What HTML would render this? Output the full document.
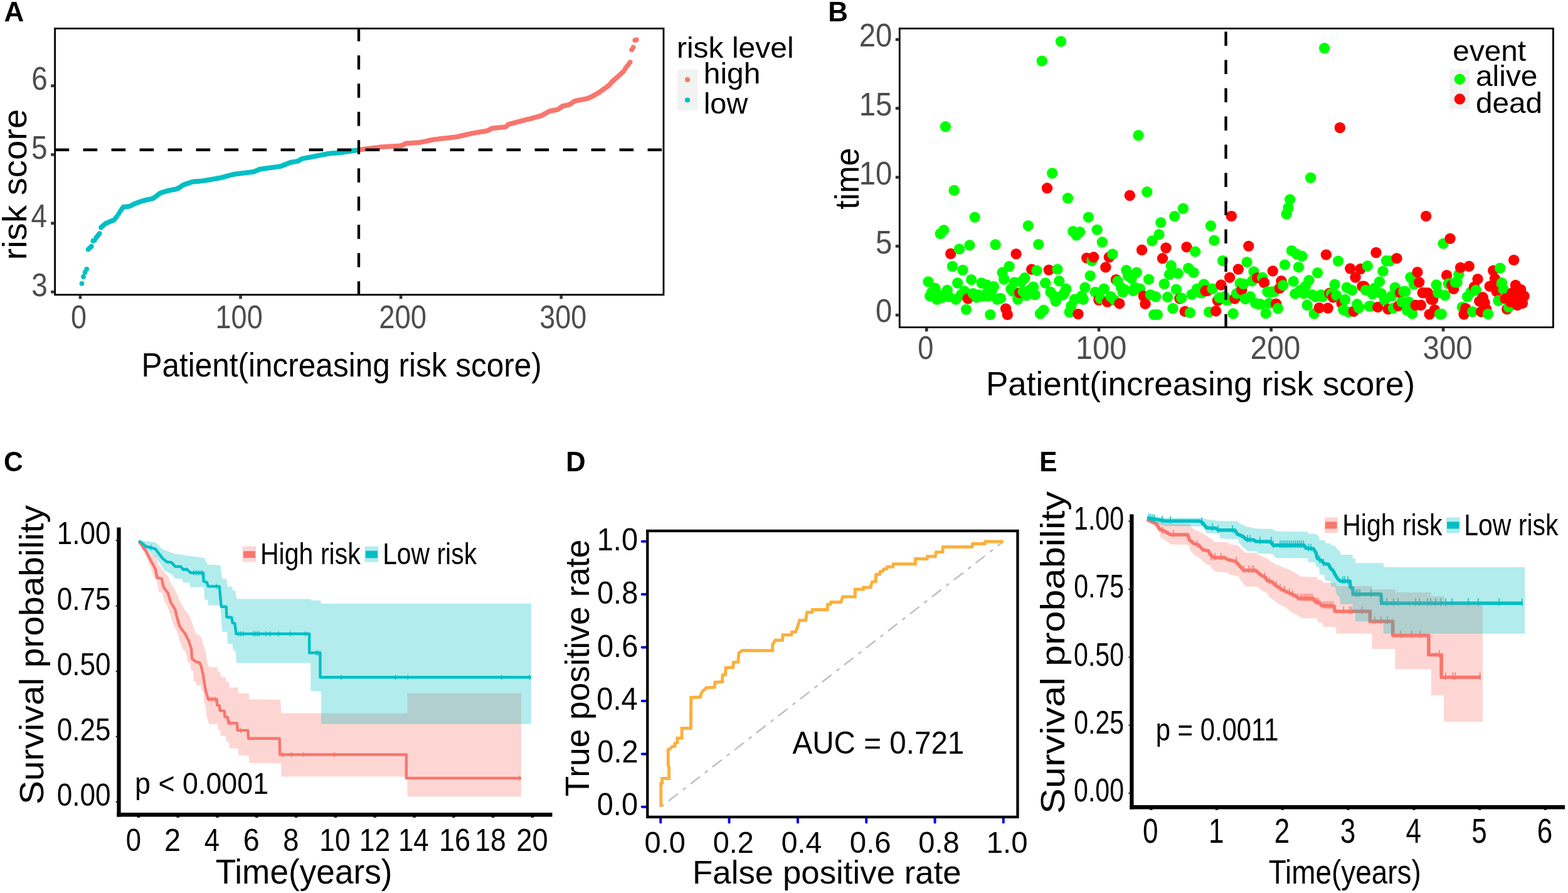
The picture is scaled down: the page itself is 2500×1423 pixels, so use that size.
<!DOCTYPE html>
<html lang="en">
<head>
<meta charset="utf-8">
<title>Risk score model: distribution, survival status, Kaplan-Meier and ROC curves</title>
<style>
html,body{margin:0;padding:0;background:#ffffff;}
body{width:2500px;height:1423px;overflow:hidden;}
svg{display:block;}
text{font-family:"Liberation Sans", Arial, Helvetica, sans-serif;white-space:pre;}
</style>
</head>
<body>
<svg xmlns="http://www.w3.org/2000/svg" width="2500" height="1423" viewBox="0 0 2500 1423" font-family='"Liberation Sans", Arial, Helvetica, sans-serif'>
<rect x="0" y="0" width="2500" height="1423" fill="#ffffff"/>
<g id="panelA">
<text transform="translate(6.6 34) scale(0.9828 1)" font-size="44.8" fill="#000" font-weight="bold">A</text>
<g fill="#00bfc4"><circle cx="130.46" cy="451.8" r="3.9"/><circle cx="133.01" cy="440.9" r="3.9"/><circle cx="135.57" cy="434" r="3.9"/><circle cx="138.12" cy="428.8" r="3.9"/><circle cx="140.68" cy="397.4" r="3.9"/><circle cx="143.24" cy="394.96" r="3.9"/><circle cx="145.79" cy="392.51" r="3.9"/><circle cx="148.35" cy="383.74" r="3.9"/><circle cx="150.9" cy="382.79" r="3.9"/><circle cx="153.46" cy="378.48" r="3.9"/><circle cx="156.02" cy="375.21" r="3.9"/><circle cx="158.57" cy="372.23" r="3.9"/><circle cx="161.13" cy="362.49" r="3.9"/><circle cx="163.68" cy="360.22" r="3.9"/><circle cx="166.24" cy="357.95" r="3.9"/><circle cx="168.8" cy="355.98" r="3.9"/><circle cx="171.35" cy="354.81" r="3.9"/><circle cx="173.91" cy="353.64" r="3.9"/><circle cx="176.46" cy="352.56" r="3.9"/><circle cx="179.02" cy="351.61" r="3.9"/><circle cx="181.58" cy="350.65" r="3.9"/><circle cx="184.13" cy="347.76" r="3.9"/><circle cx="186.69" cy="344.7" r="3.9"/><circle cx="189.24" cy="340.61" r="3.9"/><circle cx="191.8" cy="336.59" r="3.9"/><circle cx="194.36" cy="332.65" r="3.9"/><circle cx="196.91" cy="329.74" r="3.9"/><circle cx="199.47" cy="329.53" r="3.9"/><circle cx="202.02" cy="329.31" r="3.9"/><circle cx="204.58" cy="329.1" r="3.9"/><circle cx="207.14" cy="328.33" r="3.9"/><circle cx="209.69" cy="327.05" r="3.9"/><circle cx="212.25" cy="325.78" r="3.9"/><circle cx="214.8" cy="324.5" r="3.9"/><circle cx="217.36" cy="323.55" r="3.9"/><circle cx="219.92" cy="322.69" r="3.9"/><circle cx="222.47" cy="321.84" r="3.9"/><circle cx="225.03" cy="320.99" r="3.9"/><circle cx="227.58" cy="320.14" r="3.9"/><circle cx="230.14" cy="319.32" r="3.9"/><circle cx="232.7" cy="318.76" r="3.9"/><circle cx="235.25" cy="318.19" r="3.9"/><circle cx="237.81" cy="317.62" r="3.9"/><circle cx="240.36" cy="317.05" r="3.9"/><circle cx="242.92" cy="316.48" r="3.9"/><circle cx="245.48" cy="315.24" r="3.9"/><circle cx="248.03" cy="313.32" r="3.9"/><circle cx="250.59" cy="311.4" r="3.9"/><circle cx="253.14" cy="309.47" r="3.9"/><circle cx="255.7" cy="307.55" r="3.9"/><circle cx="258.26" cy="306.57" r="3.9"/><circle cx="260.81" cy="305.87" r="3.9"/><circle cx="263.37" cy="305.18" r="3.9"/><circle cx="265.92" cy="304.48" r="3.9"/><circle cx="268.48" cy="303.79" r="3.9"/><circle cx="271.04" cy="303.19" r="3.9"/><circle cx="273.59" cy="302.71" r="3.9"/><circle cx="276.15" cy="302.23" r="3.9"/><circle cx="278.7" cy="301.75" r="3.9"/><circle cx="281.26" cy="301.27" r="3.9"/><circle cx="283.82" cy="300.26" r="3.9"/><circle cx="286.37" cy="298.55" r="3.9"/><circle cx="288.93" cy="296.85" r="3.9"/><circle cx="291.48" cy="295.14" r="3.9"/><circle cx="294.04" cy="294.01" r="3.9"/><circle cx="296.6" cy="293.14" r="3.9"/><circle cx="299.15" cy="292.27" r="3.9"/><circle cx="301.71" cy="291.4" r="3.9"/><circle cx="304.26" cy="290.53" r="3.9"/><circle cx="306.82" cy="289.69" r="3.9"/><circle cx="309.38" cy="289.46" r="3.9"/><circle cx="311.93" cy="289.23" r="3.9"/><circle cx="314.49" cy="289" r="3.9"/><circle cx="317.04" cy="288.76" r="3.9"/><circle cx="319.6" cy="288.53" r="3.9"/><circle cx="322.16" cy="288.3" r="3.9"/><circle cx="324.71" cy="288.04" r="3.9"/><circle cx="327.27" cy="287.59" r="3.9"/><circle cx="329.82" cy="287.14" r="3.9"/><circle cx="332.38" cy="286.69" r="3.9"/><circle cx="334.94" cy="286.24" r="3.9"/><circle cx="337.49" cy="285.79" r="3.9"/><circle cx="340.05" cy="285.34" r="3.9"/><circle cx="342.6" cy="284.89" r="3.9"/><circle cx="345.16" cy="284.44" r="3.9"/><circle cx="347.72" cy="283.99" r="3.9"/><circle cx="350.27" cy="283.53" r="3.9"/><circle cx="352.83" cy="282.97" r="3.9"/><circle cx="355.38" cy="282.28" r="3.9"/><circle cx="357.94" cy="281.59" r="3.9"/><circle cx="360.5" cy="280.9" r="3.9"/><circle cx="363.05" cy="280.22" r="3.9"/><circle cx="365.61" cy="279.53" r="3.9"/><circle cx="368.16" cy="278.84" r="3.9"/><circle cx="370.72" cy="278.15" r="3.9"/><circle cx="373.28" cy="277.59" r="3.9"/><circle cx="375.83" cy="277.27" r="3.9"/><circle cx="378.39" cy="276.95" r="3.9"/><circle cx="380.94" cy="276.64" r="3.9"/><circle cx="383.5" cy="276.32" r="3.9"/><circle cx="386.06" cy="276" r="3.9"/><circle cx="388.61" cy="275.68" r="3.9"/><circle cx="391.17" cy="275.36" r="3.9"/><circle cx="393.72" cy="275.04" r="3.9"/><circle cx="396.28" cy="274.72" r="3.9"/><circle cx="398.84" cy="274.41" r="3.9"/><circle cx="401.39" cy="274.09" r="3.9"/><circle cx="403.95" cy="273.77" r="3.9"/><circle cx="406.5" cy="272.87" r="3.9"/><circle cx="409.06" cy="271.8" r="3.9"/><circle cx="411.62" cy="270.74" r="3.9"/><circle cx="414.17" cy="269.69" r="3.9"/><circle cx="416.73" cy="269.33" r="3.9"/><circle cx="419.28" cy="268.96" r="3.9"/><circle cx="421.84" cy="268.6" r="3.9"/><circle cx="424.4" cy="268.23" r="3.9"/><circle cx="426.95" cy="267.87" r="3.9"/><circle cx="429.51" cy="267.51" r="3.9"/><circle cx="432.06" cy="267.14" r="3.9"/><circle cx="434.62" cy="266.78" r="3.9"/><circle cx="437.18" cy="266.41" r="3.9"/><circle cx="439.73" cy="266.05" r="3.9"/><circle cx="442.29" cy="265.69" r="3.9"/><circle cx="444.84" cy="265.32" r="3.9"/><circle cx="447.4" cy="264.96" r="3.9"/><circle cx="449.96" cy="264.04" r="3.9"/><circle cx="452.51" cy="263.02" r="3.9"/><circle cx="455.07" cy="261.99" r="3.9"/><circle cx="457.62" cy="260.97" r="3.9"/><circle cx="460.18" cy="259.95" r="3.9"/><circle cx="462.74" cy="258.93" r="3.9"/><circle cx="465.29" cy="258.29" r="3.9"/><circle cx="467.85" cy="257.92" r="3.9"/><circle cx="470.4" cy="257.56" r="3.9"/><circle cx="472.96" cy="257.19" r="3.9"/><circle cx="475.52" cy="256.58" r="3.9"/><circle cx="478.07" cy="254.98" r="3.9"/><circle cx="480.63" cy="253.38" r="3.9"/><circle cx="483.18" cy="252.58" r="3.9"/><circle cx="485.74" cy="252.11" r="3.9"/><circle cx="488.3" cy="251.65" r="3.9"/><circle cx="490.85" cy="251.18" r="3.9"/><circle cx="493.41" cy="250.72" r="3.9"/><circle cx="495.96" cy="250.25" r="3.9"/><circle cx="498.52" cy="249.79" r="3.9"/><circle cx="501.08" cy="249.24" r="3.9"/><circle cx="503.63" cy="248.68" r="3.9"/><circle cx="506.19" cy="248.18" r="3.9"/><circle cx="508.74" cy="247.69" r="3.9"/><circle cx="511.3" cy="247.2" r="3.9"/><circle cx="513.86" cy="246.71" r="3.9"/><circle cx="516.41" cy="246.22" r="3.9"/><circle cx="518.97" cy="245.74" r="3.9"/><circle cx="521.52" cy="245.25" r="3.9"/><circle cx="524.08" cy="244.76" r="3.9"/><circle cx="526.64" cy="244.46" r="3.9"/><circle cx="529.19" cy="244.24" r="3.9"/><circle cx="531.75" cy="244.03" r="3.9"/><circle cx="534.3" cy="243.82" r="3.9"/><circle cx="536.86" cy="243.6" r="3.9"/><circle cx="539.42" cy="243.39" r="3.9"/><circle cx="541.97" cy="243.18" r="3.9"/><circle cx="544.53" cy="242.94" r="3.9"/><circle cx="547.08" cy="242.55" r="3.9"/><circle cx="549.64" cy="242.17" r="3.9"/><circle cx="552.2" cy="241.79" r="3.9"/><circle cx="554.75" cy="241.4" r="3.9"/><circle cx="557.31" cy="241.02" r="3.9"/><circle cx="559.86" cy="240.64" r="3.9"/><circle cx="562.42" cy="240.27" r="3.9"/><circle cx="564.98" cy="239.9" r="3.9"/><circle cx="567.53" cy="239.54" r="3.9"/><circle cx="570.09" cy="239.17" r="3.9"/></g>
<g fill="#f8766d"><circle cx="572.64" cy="238.78" r="3.9"/><circle cx="575.2" cy="238.36" r="3.9"/><circle cx="577.76" cy="238.01" r="3.9"/><circle cx="580.31" cy="237.69" r="3.9"/><circle cx="582.87" cy="237.37" r="3.9"/><circle cx="585.42" cy="237.05" r="3.9"/><circle cx="587.98" cy="236.73" r="3.9"/><circle cx="590.54" cy="236.41" r="3.9"/><circle cx="593.09" cy="236.09" r="3.9"/><circle cx="595.65" cy="235.77" r="3.9"/><circle cx="598.2" cy="235.45" r="3.9"/><circle cx="600.76" cy="235.13" r="3.9"/><circle cx="603.32" cy="234.81" r="3.9"/><circle cx="605.87" cy="234.49" r="3.9"/><circle cx="608.43" cy="234.19" r="3.9"/><circle cx="610.98" cy="234.03" r="3.9"/><circle cx="613.54" cy="233.87" r="3.9"/><circle cx="616.1" cy="233.71" r="3.9"/><circle cx="618.65" cy="233.55" r="3.9"/><circle cx="621.21" cy="233.39" r="3.9"/><circle cx="623.76" cy="233.23" r="3.9"/><circle cx="626.32" cy="233.07" r="3.9"/><circle cx="628.88" cy="232.91" r="3.9"/><circle cx="631.43" cy="232.75" r="3.9"/><circle cx="633.99" cy="232.59" r="3.9"/><circle cx="636.54" cy="232.43" r="3.9"/><circle cx="639.1" cy="232.27" r="3.9"/><circle cx="641.66" cy="231.44" r="3.9"/><circle cx="644.21" cy="230" r="3.9"/><circle cx="646.77" cy="228.6" r="3.9"/><circle cx="649.32" cy="228.41" r="3.9"/><circle cx="651.88" cy="228.23" r="3.9"/><circle cx="654.44" cy="228.05" r="3.9"/><circle cx="656.99" cy="227.86" r="3.9"/><circle cx="659.55" cy="227.68" r="3.9"/><circle cx="662.1" cy="227.5" r="3.9"/><circle cx="664.66" cy="227.32" r="3.9"/><circle cx="667.22" cy="227.13" r="3.9"/><circle cx="669.77" cy="226.86" r="3.9"/><circle cx="672.33" cy="226.34" r="3.9"/><circle cx="674.88" cy="225.82" r="3.9"/><circle cx="677.44" cy="225.3" r="3.9"/><circle cx="680" cy="224.78" r="3.9"/><circle cx="682.55" cy="224.25" r="3.9"/><circle cx="685.11" cy="223.73" r="3.9"/><circle cx="687.66" cy="223.21" r="3.9"/><circle cx="690.22" cy="222.69" r="3.9"/><circle cx="692.78" cy="222.17" r="3.9"/><circle cx="695.33" cy="221.85" r="3.9"/><circle cx="697.89" cy="221.56" r="3.9"/><circle cx="700.44" cy="221.27" r="3.9"/><circle cx="703" cy="220.98" r="3.9"/><circle cx="705.56" cy="220.69" r="3.9"/><circle cx="708.11" cy="220.4" r="3.9"/><circle cx="710.67" cy="220.11" r="3.9"/><circle cx="713.22" cy="219.82" r="3.9"/><circle cx="715.78" cy="219.53" r="3.9"/><circle cx="718.34" cy="219.24" r="3.9"/><circle cx="720.89" cy="218.95" r="3.9"/><circle cx="723.45" cy="218.66" r="3.9"/><circle cx="726" cy="218.37" r="3.9"/><circle cx="728.56" cy="218.06" r="3.9"/><circle cx="731.12" cy="217.47" r="3.9"/><circle cx="733.67" cy="216.87" r="3.9"/><circle cx="736.23" cy="216.27" r="3.9"/><circle cx="738.78" cy="215.68" r="3.9"/><circle cx="741.34" cy="215.08" r="3.9"/><circle cx="743.9" cy="214.48" r="3.9"/><circle cx="746.45" cy="213.89" r="3.9"/><circle cx="749.01" cy="213.29" r="3.9"/><circle cx="751.56" cy="212.7" r="3.9"/><circle cx="754.12" cy="212.21" r="3.9"/><circle cx="756.68" cy="211.79" r="3.9"/><circle cx="759.23" cy="211.37" r="3.9"/><circle cx="761.79" cy="210.94" r="3.9"/><circle cx="764.34" cy="210.52" r="3.9"/><circle cx="766.9" cy="210.09" r="3.9"/><circle cx="769.46" cy="209.67" r="3.9"/><circle cx="772.01" cy="209.24" r="3.9"/><circle cx="774.57" cy="208.82" r="3.9"/><circle cx="777.12" cy="208.19" r="3.9"/><circle cx="779.68" cy="206.91" r="3.9"/><circle cx="782.24" cy="205.63" r="3.9"/><circle cx="784.79" cy="204.47" r="3.9"/><circle cx="787.35" cy="204.19" r="3.9"/><circle cx="789.9" cy="203.92" r="3.9"/><circle cx="792.46" cy="203.65" r="3.9"/><circle cx="795.02" cy="203.37" r="3.9"/><circle cx="797.57" cy="203.1" r="3.9"/><circle cx="800.13" cy="202.83" r="3.9"/><circle cx="802.68" cy="202.55" r="3.9"/><circle cx="805.24" cy="202.28" r="3.9"/><circle cx="807.8" cy="201.04" r="3.9"/><circle cx="810.35" cy="198.23" r="3.9"/><circle cx="812.91" cy="197.56" r="3.9"/><circle cx="815.46" cy="196.89" r="3.9"/><circle cx="818.02" cy="196.22" r="3.9"/><circle cx="820.58" cy="195.54" r="3.9"/><circle cx="823.13" cy="194.87" r="3.9"/><circle cx="825.69" cy="194.2" r="3.9"/><circle cx="828.24" cy="193.53" r="3.9"/><circle cx="830.8" cy="192.85" r="3.9"/><circle cx="833.36" cy="192.19" r="3.9"/><circle cx="835.91" cy="191.53" r="3.9"/><circle cx="838.47" cy="190.88" r="3.9"/><circle cx="841.02" cy="190.22" r="3.9"/><circle cx="843.58" cy="189.56" r="3.9"/><circle cx="846.14" cy="188.9" r="3.9"/><circle cx="848.69" cy="188.23" r="3.9"/><circle cx="851.25" cy="187.54" r="3.9"/><circle cx="853.8" cy="186.85" r="3.9"/><circle cx="856.36" cy="186.17" r="3.9"/><circle cx="858.92" cy="185.48" r="3.9"/><circle cx="861.47" cy="184.79" r="3.9"/><circle cx="864.03" cy="183.89" r="3.9"/><circle cx="866.58" cy="182.44" r="3.9"/><circle cx="869.14" cy="181" r="3.9"/><circle cx="871.7" cy="179.55" r="3.9"/><circle cx="874.25" cy="178.1" r="3.9"/><circle cx="876.81" cy="176.89" r="3.9"/><circle cx="879.36" cy="176.43" r="3.9"/><circle cx="881.92" cy="175.97" r="3.9"/><circle cx="884.48" cy="175.51" r="3.9"/><circle cx="887.03" cy="175.05" r="3.9"/><circle cx="889.59" cy="174.28" r="3.9"/><circle cx="892.14" cy="172.46" r="3.9"/><circle cx="894.7" cy="170.64" r="3.9"/><circle cx="897.26" cy="168.95" r="3.9"/><circle cx="899.81" cy="168.4" r="3.9"/><circle cx="902.37" cy="167.85" r="3.9"/><circle cx="904.92" cy="167.3" r="3.9"/><circle cx="907.48" cy="166.75" r="3.9"/><circle cx="910.04" cy="165.31" r="3.9"/><circle cx="912.59" cy="163.53" r="3.9"/><circle cx="915.15" cy="161.74" r="3.9"/><circle cx="917.7" cy="160.71" r="3.9"/><circle cx="920.26" cy="160.22" r="3.9"/><circle cx="922.82" cy="159.73" r="3.9"/><circle cx="925.37" cy="159.24" r="3.9"/><circle cx="927.93" cy="158.74" r="3.9"/><circle cx="930.48" cy="158.25" r="3.9"/><circle cx="933.04" cy="157.76" r="3.9"/><circle cx="935.6" cy="157.27" r="3.9"/><circle cx="938.15" cy="156.43" r="3.9"/><circle cx="940.71" cy="155.17" r="3.9"/><circle cx="943.26" cy="153.9" r="3.9"/><circle cx="945.82" cy="152.64" r="3.9"/><circle cx="948.38" cy="151.22" r="3.9"/><circle cx="950.93" cy="149.73" r="3.9"/><circle cx="953.49" cy="148.24" r="3.9"/><circle cx="956.04" cy="146.75" r="3.9"/><circle cx="958.6" cy="144.87" r="3.9"/><circle cx="961.16" cy="142.96" r="3.9"/><circle cx="963.71" cy="141.09" r="3.9"/><circle cx="966.27" cy="139.3" r="3.9"/><circle cx="968.82" cy="137.51" r="3.9"/><circle cx="971.38" cy="135.41" r="3.9"/><circle cx="973.94" cy="132.42" r="3.9"/><circle cx="976.49" cy="129.71" r="3.9"/><circle cx="979.05" cy="127.41" r="3.9"/><circle cx="981.6" cy="125.11" r="3.9"/><circle cx="984.16" cy="122.82" r="3.9"/><circle cx="986.72" cy="120.59" r="3.9"/><circle cx="989.27" cy="118.35" r="3.9"/><circle cx="991.83" cy="115.87" r="3.9"/><circle cx="994.38" cy="113.32" r="3.9"/><circle cx="996.94" cy="109.45" r="3.9"/><circle cx="999.5" cy="105.57" r="3.9"/><circle cx="1002.05" cy="102.66" r="3.9"/><circle cx="1004.61" cy="99.03" r="3.9"/><circle cx="1007.16" cy="79.3" r="3.9"/><circle cx="1009.72" cy="75.3" r="3.9"/><circle cx="1012.28" cy="64.1" r="3.9"/><circle cx="1014.83" cy="63.3" r="3.9"/></g>
<line x1="87.6" y1="238.7" x2="1058" y2="238.7" stroke="#000" stroke-width="4.5" stroke-dasharray="22.6 22.4"/>
<line x1="572" y1="470.8" x2="572" y2="45.4" stroke="#000" stroke-width="4.3" stroke-dasharray="22.6 22.4"/>
<rect x="87.6" y="45.4" width="970.4" height="424.3" fill="none" stroke="#000" stroke-width="2.8"/>
<line x1="81.2" y1="136.7" x2="86.2" y2="136.7" stroke="#333333" stroke-width="4.6"/>
<text transform="translate(50.18 143) scale(0.9000 1)" font-size="51" fill="#4d4d4d">6</text>
<line x1="81.2" y1="246.4" x2="86.2" y2="246.4" stroke="#333333" stroke-width="4.6"/>
<text transform="translate(50.06 252.8) scale(0.9000 1)" font-size="51" fill="#4d4d4d">5</text>
<line x1="81.2" y1="355.7" x2="86.2" y2="355.7" stroke="#333333" stroke-width="4.6"/>
<text transform="translate(49.49 362.2) scale(0.9000 1)" font-size="51" fill="#4d4d4d">4</text>
<line x1="81.2" y1="465.2" x2="86.2" y2="465.2" stroke="#333333" stroke-width="4.6"/>
<text transform="translate(50.18 472.4) scale(0.9000 1)" font-size="51" fill="#4d4d4d">3</text>
<line x1="127.9" y1="471.1" x2="127.9" y2="476.3" stroke="#333333" stroke-width="4.6"/>
<line x1="383.5" y1="471.1" x2="383.5" y2="476.3" stroke="#333333" stroke-width="4.6"/>
<line x1="639.1" y1="471.1" x2="639.1" y2="476.3" stroke="#333333" stroke-width="4.6"/>
<line x1="894.7" y1="471.1" x2="894.7" y2="476.3" stroke="#333333" stroke-width="4.6"/>
<text transform="translate(112.9 522.7) scale(0.8829 1)" font-size="51" fill="#4d4d4d">0</text>
<text transform="translate(343.48 522.7) scale(0.8844 1)" font-size="51" fill="#4d4d4d">100</text>
<text transform="translate(604.33 522.7) scale(0.8898 1)" font-size="51" fill="#4d4d4d">200</text>
<text transform="translate(860.32 522.7) scale(0.8804 1)" font-size="51" fill="#4d4d4d">300</text>
<text transform="translate(225.52 600.3) scale(0.9085 1)" font-size="54.5" fill="#000">Patient(increasing risk score)</text>
<text transform="translate(41.8 414.46) rotate(-90) scale(1.0540 1)" font-size="53.4" fill="#000">risk score</text>
<text transform="translate(1078.98 92.4) scale(1.0319 1)" font-size="46.5" fill="#000">risk level</text>
<rect x="1079.9" y="111" width="32.5" height="64.7" fill="#f2f2f2"/>
<circle cx="1096.1" cy="127.1" r="4.1" fill="#f8766d"/><circle cx="1096.1" cy="159.5" r="4.1" fill="#00bfc4"/>
<text transform="translate(1121.74 132.8) scale(1.0327 1)" font-size="46.5" fill="#000">high</text>
<text transform="translate(1121.93 180.9) scale(1.0086 1)" font-size="46.5" fill="#000">low</text>
</g>
<g id="panelB">
<text transform="translate(1320.23 34) scale(0.9807 1)" font-size="44.8" fill="#000" font-weight="bold">B</text>
<g><circle cx="1480.05" cy="448.9" r="8.7" fill="#00ff00"/><circle cx="1482.79" cy="471.8" r="8.7" fill="#00ff00"/><circle cx="1485.54" cy="466" r="8.7" fill="#00ff00"/><circle cx="1488.28" cy="472" r="8.7" fill="#00ff00"/><circle cx="1491.03" cy="459.3" r="8.7" fill="#00ff00"/><circle cx="1493.78" cy="477" r="8.7" fill="#00ff00"/><circle cx="1496.52" cy="470" r="8.7" fill="#00ff00"/><circle cx="1499.27" cy="372.3" r="8.7" fill="#00ff00"/><circle cx="1502.01" cy="474" r="8.7" fill="#00ff00"/><circle cx="1504.76" cy="366.6" r="8.7" fill="#00ff00"/><circle cx="1507.51" cy="201.8" r="8.7" fill="#00ff00"/><circle cx="1510.25" cy="462.4" r="8.7" fill="#00ff00"/><circle cx="1513" cy="472.8" r="8.7" fill="#00ff00"/><circle cx="1515.74" cy="404.3" r="8.7" fill="#ff0000"/><circle cx="1518.49" cy="424.5" r="8.7" fill="#00ff00"/><circle cx="1521.24" cy="303.4" r="8.7" fill="#00ff00"/><circle cx="1523.98" cy="477" r="8.7" fill="#00ff00"/><circle cx="1526.73" cy="451" r="8.7" fill="#00ff00"/><circle cx="1529.47" cy="396.9" r="8.7" fill="#00ff00"/><circle cx="1532.22" cy="470" r="8.7" fill="#00ff00"/><circle cx="1534.97" cy="430.4" r="8.7" fill="#00ff00"/><circle cx="1537.71" cy="464" r="8.7" fill="#00ff00"/><circle cx="1540.46" cy="493.1" r="8.7" fill="#00ff00"/><circle cx="1543.2" cy="475.9" r="8.7" fill="#ff0000"/><circle cx="1545.95" cy="390.8" r="8.7" fill="#00ff00"/><circle cx="1548.7" cy="445.7" r="8.7" fill="#00ff00"/><circle cx="1551.44" cy="467.6" r="8.7" fill="#00ff00"/><circle cx="1554.19" cy="346.1" r="8.7" fill="#00ff00"/><circle cx="1556.93" cy="473.8" r="8.7" fill="#00ff00"/><circle cx="1559.68" cy="470" r="8.7" fill="#00ff00"/><circle cx="1562.43" cy="472" r="8.7" fill="#00ff00"/><circle cx="1565.17" cy="451" r="8.7" fill="#00ff00"/><circle cx="1567.92" cy="471.8" r="8.7" fill="#00ff00"/><circle cx="1570.66" cy="470" r="8.7" fill="#00ff00"/><circle cx="1573.41" cy="454" r="8.7" fill="#00ff00"/><circle cx="1576.16" cy="471.8" r="8.7" fill="#00ff00"/><circle cx="1578.9" cy="501.4" r="8.7" fill="#00ff00"/><circle cx="1581.65" cy="462.4" r="8.7" fill="#00ff00"/><circle cx="1584.39" cy="456.7" r="8.7" fill="#00ff00"/><circle cx="1587.14" cy="389.8" r="8.7" fill="#00ff00"/><circle cx="1589.89" cy="477" r="8.7" fill="#00ff00"/><circle cx="1592.63" cy="476" r="8.7" fill="#00ff00"/><circle cx="1595.38" cy="475.4" r="8.7" fill="#00ff00"/><circle cx="1598.12" cy="434.3" r="8.7" fill="#00ff00"/><circle cx="1600.87" cy="445" r="8.7" fill="#00ff00"/><circle cx="1603.62" cy="492" r="8.7" fill="#ff0000"/><circle cx="1606.36" cy="501.4" r="8.7" fill="#ff0000"/><circle cx="1609.11" cy="424.5" r="8.7" fill="#00ff00"/><circle cx="1611.85" cy="460.3" r="8.7" fill="#00ff00"/><circle cx="1614.6" cy="464" r="8.7" fill="#00ff00"/><circle cx="1617.35" cy="449.9" r="8.7" fill="#00ff00"/><circle cx="1620.09" cy="404.6" r="8.7" fill="#ff0000"/><circle cx="1622.84" cy="477" r="8.7" fill="#00ff00"/><circle cx="1625.58" cy="466.6" r="8.7" fill="#ff0000"/><circle cx="1628.33" cy="448.9" r="8.7" fill="#00ff00"/><circle cx="1631.08" cy="464.5" r="8.7" fill="#00ff00"/><circle cx="1633.82" cy="442.8" r="8.7" fill="#00ff00"/><circle cx="1636.57" cy="470.7" r="8.7" fill="#00ff00"/><circle cx="1639.31" cy="359.6" r="8.7" fill="#00ff00"/><circle cx="1642.06" cy="462" r="8.7" fill="#00ff00"/><circle cx="1644.81" cy="429.2" r="8.7" fill="#ff0000"/><circle cx="1647.55" cy="457.2" r="8.7" fill="#00ff00"/><circle cx="1650.3" cy="469.7" r="8.7" fill="#00ff00"/><circle cx="1653.04" cy="431.2" r="8.7" fill="#00ff00"/><circle cx="1655.79" cy="389.5" r="8.7" fill="#00ff00"/><circle cx="1658.54" cy="499.8" r="8.7" fill="#00ff00"/><circle cx="1661.28" cy="97.1" r="8.7" fill="#00ff00"/><circle cx="1664.03" cy="494.1" r="8.7" fill="#00ff00"/><circle cx="1666.77" cy="451" r="8.7" fill="#00ff00"/><circle cx="1669.52" cy="299.8" r="8.7" fill="#ff0000"/><circle cx="1672.27" cy="430.1" r="8.7" fill="#ff0000"/><circle cx="1675.01" cy="465.5" r="8.7" fill="#00ff00"/><circle cx="1677.76" cy="276" r="8.7" fill="#00ff00"/><circle cx="1680.5" cy="472" r="8.7" fill="#00ff00"/><circle cx="1683.25" cy="480.1" r="8.7" fill="#00ff00"/><circle cx="1686" cy="429.1" r="8.7" fill="#00ff00"/><circle cx="1688.74" cy="447.8" r="8.7" fill="#00ff00"/><circle cx="1691.49" cy="66" r="8.7" fill="#00ff00"/><circle cx="1694.23" cy="470" r="8.7" fill="#00ff00"/><circle cx="1696.98" cy="466.6" r="8.7" fill="#00ff00"/><circle cx="1699.73" cy="460.3" r="8.7" fill="#00ff00"/><circle cx="1702.47" cy="315.8" r="8.7" fill="#00ff00"/><circle cx="1705.22" cy="497.5" r="8.7" fill="#00ff00"/><circle cx="1707.96" cy="487.4" r="8.7" fill="#00ff00"/><circle cx="1710.71" cy="368.7" r="8.7" fill="#00ff00"/><circle cx="1713.46" cy="477" r="8.7" fill="#00ff00"/><circle cx="1716.2" cy="374.9" r="8.7" fill="#00ff00"/><circle cx="1718.95" cy="500.4" r="8.7" fill="#ff0000"/><circle cx="1721.69" cy="369.7" r="8.7" fill="#00ff00"/><circle cx="1724.44" cy="471.8" r="8.7" fill="#00ff00"/><circle cx="1727.19" cy="477" r="8.7" fill="#00ff00"/><circle cx="1729.93" cy="458.1" r="8.7" fill="#00ff00"/><circle cx="1732.68" cy="411.1" r="8.7" fill="#ff0000"/><circle cx="1735.42" cy="346.1" r="8.7" fill="#00ff00"/><circle cx="1738.17" cy="439.4" r="8.7" fill="#00ff00"/><circle cx="1740.92" cy="415.5" r="8.7" fill="#00ff00"/><circle cx="1743.66" cy="409.8" r="8.7" fill="#ff0000"/><circle cx="1746.41" cy="465.5" r="8.7" fill="#00ff00"/><circle cx="1749.15" cy="366.1" r="8.7" fill="#00ff00"/><circle cx="1751.9" cy="478" r="8.7" fill="#ff0000"/><circle cx="1754.65" cy="475.9" r="8.7" fill="#00ff00"/><circle cx="1757.39" cy="385.8" r="8.7" fill="#00ff00"/><circle cx="1760.14" cy="460.2" r="8.7" fill="#00ff00"/><circle cx="1762.88" cy="425.9" r="8.7" fill="#ff0000"/><circle cx="1765.63" cy="481.1" r="8.7" fill="#ff0000"/><circle cx="1768.38" cy="409.8" r="8.7" fill="#ff0000"/><circle cx="1771.12" cy="472.8" r="8.7" fill="#00ff00"/><circle cx="1773.87" cy="404.9" r="8.7" fill="#00ff00"/><circle cx="1776.61" cy="478" r="8.7" fill="#00ff00"/><circle cx="1779.36" cy="445.6" r="8.7" fill="#ff0000"/><circle cx="1782.11" cy="448.2" r="8.7" fill="#00ff00"/><circle cx="1784.85" cy="483.7" r="8.7" fill="#ff0000"/><circle cx="1787.6" cy="458.2" r="8.7" fill="#00ff00"/><circle cx="1790.34" cy="465.5" r="8.7" fill="#00ff00"/><circle cx="1793.09" cy="461.4" r="8.7" fill="#00ff00"/><circle cx="1795.84" cy="430.6" r="8.7" fill="#00ff00"/><circle cx="1798.58" cy="439.4" r="8.7" fill="#00ff00"/><circle cx="1801.33" cy="311.5" r="8.7" fill="#ff0000"/><circle cx="1804.07" cy="443.6" r="8.7" fill="#00ff00"/><circle cx="1806.82" cy="463.4" r="8.7" fill="#00ff00"/><circle cx="1809.57" cy="458.2" r="8.7" fill="#00ff00"/><circle cx="1812.31" cy="434.2" r="8.7" fill="#00ff00"/><circle cx="1815.06" cy="215.7" r="8.7" fill="#00ff00"/><circle cx="1817.8" cy="460.3" r="8.7" fill="#00ff00"/><circle cx="1820.55" cy="398.3" r="8.7" fill="#ff0000"/><circle cx="1823.3" cy="471.8" r="8.7" fill="#ff0000"/><circle cx="1826.04" cy="484.2" r="8.7" fill="#ff0000"/><circle cx="1828.79" cy="305.8" r="8.7" fill="#00ff00"/><circle cx="1831.53" cy="445.1" r="8.7" fill="#00ff00"/><circle cx="1834.28" cy="469.7" r="8.7" fill="#00ff00"/><circle cx="1837.03" cy="383.8" r="8.7" fill="#00ff00"/><circle cx="1839.77" cy="501.4" r="8.7" fill="#00ff00"/><circle cx="1842.52" cy="472.8" r="8.7" fill="#00ff00"/><circle cx="1845.26" cy="501.4" r="8.7" fill="#00ff00"/><circle cx="1848.01" cy="373.7" r="8.7" fill="#00ff00"/><circle cx="1850.76" cy="354.6" r="8.7" fill="#00ff00"/><circle cx="1853.5" cy="411.8" r="8.7" fill="#ff0000"/><circle cx="1856.25" cy="452.4" r="8.7" fill="#00ff00"/><circle cx="1858.99" cy="395" r="8.7" fill="#ff0000"/><circle cx="1861.74" cy="473.3" r="8.7" fill="#00ff00"/><circle cx="1864.49" cy="437.3" r="8.7" fill="#00ff00"/><circle cx="1867.23" cy="423.3" r="8.7" fill="#00ff00"/><circle cx="1869.98" cy="491.5" r="8.7" fill="#00ff00"/><circle cx="1872.72" cy="344.6" r="8.7" fill="#00ff00"/><circle cx="1875.47" cy="461.2" r="8.7" fill="#00ff00"/><circle cx="1878.22" cy="435.8" r="8.7" fill="#00ff00"/><circle cx="1880.96" cy="475.9" r="8.7" fill="#ff0000"/><circle cx="1883.71" cy="474.9" r="8.7" fill="#00ff00"/><circle cx="1886.45" cy="332.3" r="8.7" fill="#00ff00"/><circle cx="1889.2" cy="496.2" r="8.7" fill="#ff0000"/><circle cx="1891.95" cy="393.6" r="8.7" fill="#ff0000"/><circle cx="1894.69" cy="427.4" r="8.7" fill="#00ff00"/><circle cx="1897.44" cy="498.3" r="8.7" fill="#00ff00"/><circle cx="1900.18" cy="469.2" r="8.7" fill="#00ff00"/><circle cx="1902.93" cy="434.2" r="8.7" fill="#00ff00"/><circle cx="1905.68" cy="400.9" r="8.7" fill="#00ff00"/><circle cx="1908.42" cy="460.3" r="8.7" fill="#00ff00"/><circle cx="1911.17" cy="460.3" r="8.7" fill="#00ff00"/><circle cx="1913.91" cy="466.6" r="8.7" fill="#00ff00"/><circle cx="1916.66" cy="466.6" r="8.7" fill="#00ff00"/><circle cx="1919.41" cy="452.9" r="8.7" fill="#00ff00"/><circle cx="1922.15" cy="463.3" r="8.7" fill="#ff0000"/><circle cx="1924.9" cy="463.3" r="8.7" fill="#ff0000"/><circle cx="1927.64" cy="497.2" r="8.7" fill="#00ff00"/><circle cx="1930.39" cy="359.8" r="8.7" fill="#00ff00"/><circle cx="1933.14" cy="460.2" r="8.7" fill="#00ff00"/><circle cx="1935.88" cy="383.2" r="8.7" fill="#00ff00"/><circle cx="1938.63" cy="495.7" r="8.7" fill="#ff0000"/><circle cx="1941.37" cy="479" r="8.7" fill="#ff0000"/><circle cx="1944.12" cy="474.4" r="8.7" fill="#00ff00"/><circle cx="1946.87" cy="454" r="8.7" fill="#ff0000"/><circle cx="1949.61" cy="415.5" r="8.7" fill="#00ff00"/><circle cx="1952.36" cy="472.8" r="8.7" fill="#00ff00"/><circle cx="1955.1" cy="478" r="8.7" fill="#00ff00"/><circle cx="1957.85" cy="478" r="8.7" fill="#00ff00"/><circle cx="1960.6" cy="442.2" r="8.7" fill="#ff0000"/><circle cx="1963.34" cy="344.4" r="8.7" fill="#ff0000"/><circle cx="1966.09" cy="499.8" r="8.7" fill="#00ff00"/><circle cx="1968.83" cy="475.9" r="8.7" fill="#ff0000"/><circle cx="1971.58" cy="467.6" r="8.7" fill="#00ff00"/><circle cx="1974.33" cy="429" r="8.7" fill="#ff0000"/><circle cx="1977.07" cy="451.5" r="8.7" fill="#00ff00"/><circle cx="1979.82" cy="461.9" r="8.7" fill="#ff0000"/><circle cx="1982.56" cy="452.5" r="8.7" fill="#00ff00"/><circle cx="1985.31" cy="476.4" r="8.7" fill="#00ff00"/><circle cx="1988.06" cy="417.6" r="8.7" fill="#00ff00"/><circle cx="1990.8" cy="392.1" r="8.7" fill="#ff0000"/><circle cx="1993.55" cy="472.8" r="8.7" fill="#00ff00"/><circle cx="1996.29" cy="447.8" r="8.7" fill="#00ff00"/><circle cx="1999.04" cy="433" r="8.7" fill="#00ff00"/><circle cx="2001.79" cy="483.2" r="8.7" fill="#00ff00"/><circle cx="2004.53" cy="442.6" r="8.7" fill="#ff0000"/><circle cx="2007.28" cy="484.8" r="8.7" fill="#00ff00"/><circle cx="2010.02" cy="484.8" r="8.7" fill="#00ff00"/><circle cx="2012.77" cy="442.1" r="8.7" fill="#00ff00"/><circle cx="2015.52" cy="450.4" r="8.7" fill="#ff0000"/><circle cx="2018.26" cy="499.3" r="8.7" fill="#00ff00"/><circle cx="2021.01" cy="465" r="8.7" fill="#00ff00"/><circle cx="2023.75" cy="483.2" r="8.7" fill="#00ff00"/><circle cx="2026.5" cy="465" r="8.7" fill="#00ff00"/><circle cx="2029.25" cy="431.9" r="8.7" fill="#ff0000"/><circle cx="2031.99" cy="464.5" r="8.7" fill="#00ff00"/><circle cx="2034.74" cy="484.2" r="8.7" fill="#ff0000"/><circle cx="2037.48" cy="491.5" r="8.7" fill="#00ff00"/><circle cx="2040.23" cy="459.3" r="8.7" fill="#ff0000"/><circle cx="2042.98" cy="447.8" r="8.7" fill="#ff0000"/><circle cx="2045.72" cy="454.6" r="8.7" fill="#00ff00"/><circle cx="2048.47" cy="421.9" r="8.7" fill="#00ff00"/><circle cx="2051.21" cy="341.1" r="8.7" fill="#00ff00"/><circle cx="2053.96" cy="331.2" r="8.7" fill="#00ff00"/><circle cx="2056.71" cy="317.9" r="8.7" fill="#00ff00"/><circle cx="2059.45" cy="399.4" r="8.7" fill="#00ff00"/><circle cx="2062.2" cy="448.4" r="8.7" fill="#00ff00"/><circle cx="2064.94" cy="468.1" r="8.7" fill="#00ff00"/><circle cx="2067.69" cy="405.1" r="8.7" fill="#00ff00"/><circle cx="2070.44" cy="425.7" r="8.7" fill="#00ff00"/><circle cx="2073.18" cy="462.4" r="8.7" fill="#00ff00"/><circle cx="2075.93" cy="408.2" r="8.7" fill="#00ff00"/><circle cx="2078.67" cy="467.6" r="8.7" fill="#00ff00"/><circle cx="2081.42" cy="456.2" r="8.7" fill="#00ff00"/><circle cx="2084.17" cy="486.3" r="8.7" fill="#00ff00"/><circle cx="2086.91" cy="446.8" r="8.7" fill="#00ff00"/><circle cx="2089.66" cy="283.2" r="8.7" fill="#00ff00"/><circle cx="2092.4" cy="469.7" r="8.7" fill="#00ff00"/><circle cx="2095.15" cy="499.8" r="8.7" fill="#00ff00"/><circle cx="2097.9" cy="472.8" r="8.7" fill="#00ff00"/><circle cx="2100.64" cy="434.7" r="8.7" fill="#00ff00"/><circle cx="2103.39" cy="490.5" r="8.7" fill="#ff0000"/><circle cx="2106.13" cy="469.7" r="8.7" fill="#00ff00"/><circle cx="2108.88" cy="472.8" r="8.7" fill="#00ff00"/><circle cx="2111.63" cy="76.8" r="8.7" fill="#00ff00"/><circle cx="2114.37" cy="405.9" r="8.7" fill="#ff0000"/><circle cx="2117.12" cy="491" r="8.7" fill="#ff0000"/><circle cx="2119.86" cy="467.1" r="8.7" fill="#ff0000"/><circle cx="2122.61" cy="467.6" r="8.7" fill="#00ff00"/><circle cx="2125.36" cy="473.8" r="8.7" fill="#ff0000"/><circle cx="2128.1" cy="453.3" r="8.7" fill="#00ff00"/><circle cx="2130.85" cy="470.7" r="8.7" fill="#00ff00"/><circle cx="2133.59" cy="416" r="8.7" fill="#00ff00"/><circle cx="2136.34" cy="203.5" r="8.7" fill="#ff0000"/><circle cx="2139.09" cy="483.2" r="8.7" fill="#ff0000"/><circle cx="2141.83" cy="493.6" r="8.7" fill="#00ff00"/><circle cx="2144.58" cy="477.5" r="8.7" fill="#00ff00"/><circle cx="2147.32" cy="458.2" r="8.7" fill="#00ff00"/><circle cx="2150.07" cy="497.2" r="8.7" fill="#00ff00"/><circle cx="2152.82" cy="428" r="8.7" fill="#ff0000"/><circle cx="2155.56" cy="462.4" r="8.7" fill="#00ff00"/><circle cx="2158.31" cy="496.2" r="8.7" fill="#ff0000"/><circle cx="2161.05" cy="442" r="8.7" fill="#ff0000"/><circle cx="2163.8" cy="484.8" r="8.7" fill="#00ff00"/><circle cx="2166.55" cy="490.5" r="8.7" fill="#00ff00"/><circle cx="2169.29" cy="428.5" r="8.7" fill="#ff0000"/><circle cx="2172.04" cy="456.2" r="8.7" fill="#ff0000"/><circle cx="2174.78" cy="456.2" r="8.7" fill="#ff0000"/><circle cx="2177.53" cy="462.4" r="8.7" fill="#00ff00"/><circle cx="2180.28" cy="423.8" r="8.7" fill="#00ff00"/><circle cx="2183.02" cy="487.9" r="8.7" fill="#00ff00"/><circle cx="2185.77" cy="487.9" r="8.7" fill="#00ff00"/><circle cx="2188.51" cy="468.6" r="8.7" fill="#00ff00"/><circle cx="2191.26" cy="459.3" r="8.7" fill="#00ff00"/><circle cx="2194.01" cy="402.5" r="8.7" fill="#ff0000"/><circle cx="2196.75" cy="489.4" r="8.7" fill="#ff0000"/><circle cx="2199.5" cy="448.9" r="8.7" fill="#00ff00"/><circle cx="2202.24" cy="467.6" r="8.7" fill="#00ff00"/><circle cx="2204.99" cy="432.2" r="8.7" fill="#00ff00"/><circle cx="2207.74" cy="478" r="8.7" fill="#00ff00"/><circle cx="2210.48" cy="415.5" r="8.7" fill="#00ff00"/><circle cx="2213.23" cy="492.6" r="8.7" fill="#ff0000"/><circle cx="2215.97" cy="415.8" r="8.7" fill="#00ff00"/><circle cx="2218.72" cy="471.8" r="8.7" fill="#00ff00"/><circle cx="2221.47" cy="491" r="8.7" fill="#00ff00"/><circle cx="2224.21" cy="458.2" r="8.7" fill="#00ff00"/><circle cx="2226.96" cy="411.6" r="8.7" fill="#ff0000"/><circle cx="2229.7" cy="487.4" r="8.7" fill="#ff0000"/><circle cx="2232.45" cy="466.6" r="8.7" fill="#ff0000"/><circle cx="2235.2" cy="481.1" r="8.7" fill="#00ff00"/><circle cx="2237.94" cy="464.5" r="8.7" fill="#00ff00"/><circle cx="2240.69" cy="464.5" r="8.7" fill="#00ff00"/><circle cx="2243.43" cy="494.6" r="8.7" fill="#00ff00"/><circle cx="2246.18" cy="481.1" r="8.7" fill="#00ff00"/><circle cx="2248.93" cy="442" r="8.7" fill="#00ff00"/><circle cx="2251.67" cy="499.8" r="8.7" fill="#00ff00"/><circle cx="2254.42" cy="453" r="8.7" fill="#00ff00"/><circle cx="2257.16" cy="486.3" r="8.7" fill="#ff0000"/><circle cx="2259.91" cy="433.7" r="8.7" fill="#ff0000"/><circle cx="2262.66" cy="449.8" r="8.7" fill="#ff0000"/><circle cx="2265.4" cy="486.3" r="8.7" fill="#ff0000"/><circle cx="2268.15" cy="466.6" r="8.7" fill="#ff0000"/><circle cx="2270.89" cy="466.6" r="8.7" fill="#ff0000"/><circle cx="2273.64" cy="344.4" r="8.7" fill="#ff0000"/><circle cx="2276.39" cy="466.6" r="8.7" fill="#ff0000"/><circle cx="2279.13" cy="500.9" r="8.7" fill="#ff0000"/><circle cx="2281.88" cy="477" r="8.7" fill="#ff0000"/><circle cx="2284.62" cy="477" r="8.7" fill="#ff0000"/><circle cx="2287.37" cy="493.6" r="8.7" fill="#ff0000"/><circle cx="2290.12" cy="454" r="8.7" fill="#00ff00"/><circle cx="2292.86" cy="466.6" r="8.7" fill="#00ff00"/><circle cx="2295.61" cy="500.4" r="8.7" fill="#00ff00"/><circle cx="2298.35" cy="500.4" r="8.7" fill="#00ff00"/><circle cx="2301.1" cy="388.1" r="8.7" fill="#00ff00"/><circle cx="2303.85" cy="470.7" r="8.7" fill="#00ff00"/><circle cx="2306.59" cy="438.7" r="8.7" fill="#ff0000"/><circle cx="2309.34" cy="452" r="8.7" fill="#00ff00"/><circle cx="2312.08" cy="380.1" r="8.7" fill="#ff0000"/><circle cx="2314.83" cy="454.1" r="8.7" fill="#ff0000"/><circle cx="2317.58" cy="460.3" r="8.7" fill="#ff0000"/><circle cx="2320.32" cy="449.9" r="8.7" fill="#00ff00"/><circle cx="2323.07" cy="449.9" r="8.7" fill="#00ff00"/><circle cx="2325.81" cy="437.3" r="8.7" fill="#00ff00"/><circle cx="2328.56" cy="426.4" r="8.7" fill="#ff0000"/><circle cx="2331.31" cy="489.4" r="8.7" fill="#00ff00"/><circle cx="2334.05" cy="500.9" r="8.7" fill="#ff0000"/><circle cx="2336.8" cy="491.5" r="8.7" fill="#ff0000"/><circle cx="2339.54" cy="472.8" r="8.7" fill="#00ff00"/><circle cx="2342.29" cy="424.3" r="8.7" fill="#ff0000"/><circle cx="2345.04" cy="465.5" r="8.7" fill="#00ff00"/><circle cx="2347.78" cy="496.7" r="8.7" fill="#00ff00"/><circle cx="2350.53" cy="457.2" r="8.7" fill="#ff0000"/><circle cx="2353.27" cy="462.4" r="8.7" fill="#00ff00"/><circle cx="2356.02" cy="444.6" r="8.7" fill="#ff0000"/><circle cx="2358.77" cy="480.1" r="8.7" fill="#ff0000"/><circle cx="2361.51" cy="496.7" r="8.7" fill="#ff0000"/><circle cx="2364.26" cy="473.8" r="8.7" fill="#ff0000"/><circle cx="2367" cy="482.2" r="8.7" fill="#ff0000"/><circle cx="2369.75" cy="492.6" r="8.7" fill="#ff0000"/><circle cx="2372.5" cy="500.4" r="8.7" fill="#00ff00"/><circle cx="2375.24" cy="456.2" r="8.7" fill="#ff0000"/><circle cx="2377.99" cy="456.2" r="8.7" fill="#ff0000"/><circle cx="2380.73" cy="431.1" r="8.7" fill="#ff0000"/><circle cx="2383.48" cy="444.1" r="8.7" fill="#ff0000"/><circle cx="2386.23" cy="464.5" r="8.7" fill="#ff0000"/><circle cx="2388.97" cy="479" r="8.7" fill="#00ff00"/><circle cx="2391.72" cy="427.2" r="8.7" fill="#00ff00"/><circle cx="2394.46" cy="450.8" r="8.7" fill="#00ff00"/><circle cx="2397.21" cy="461.4" r="8.7" fill="#00ff00"/><circle cx="2399.96" cy="475.9" r="8.7" fill="#ff0000"/><circle cx="2402.7" cy="492.6" r="8.7" fill="#ff0000"/><circle cx="2405.45" cy="489.4" r="8.7" fill="#00ff00"/><circle cx="2408.19" cy="481.1" r="8.7" fill="#ff0000"/><circle cx="2410.94" cy="466.6" r="8.7" fill="#ff0000"/><circle cx="2413.69" cy="414.4" r="8.7" fill="#ff0000"/><circle cx="2416.43" cy="454.5" r="8.7" fill="#ff0000"/><circle cx="2419.18" cy="486.3" r="8.7" fill="#ff0000"/><circle cx="2421.92" cy="472.8" r="8.7" fill="#ff0000"/><circle cx="2424.67" cy="461.4" r="8.7" fill="#ff0000"/><circle cx="2427.42" cy="483.2" r="8.7" fill="#ff0000"/><circle cx="2430.16" cy="471.8" r="8.7" fill="#ff0000"/></g>
<line x1="1954.5" y1="523" x2="1954.5" y2="45.4" stroke="#000" stroke-width="4.3" stroke-dasharray="22.6 22.4"/>
<rect x="1434.3" y="45.4" width="1042.1" height="476.2" fill="none" stroke="#000" stroke-width="2.8"/>
<line x1="1427.8" y1="63" x2="1432.9" y2="63" stroke="#333333" stroke-width="4.6"/>
<text transform="translate(1369.63 74.3) scale(0.9300 1)" font-size="51" fill="#4d4d4d">20</text>
<line x1="1427.8" y1="172.6" x2="1432.9" y2="172.6" stroke="#333333" stroke-width="4.6"/>
<text transform="translate(1369.75 183.9) scale(0.9300 1)" font-size="51" fill="#4d4d4d">15</text>
<line x1="1427.8" y1="282.5" x2="1432.9" y2="282.5" stroke="#333333" stroke-width="4.6"/>
<text transform="translate(1369.63 293.8) scale(0.9300 1)" font-size="51" fill="#4d4d4d">10</text>
<line x1="1427.8" y1="392.3" x2="1432.9" y2="392.3" stroke="#333333" stroke-width="4.6"/>
<text transform="translate(1396.07 403.6) scale(0.9300 1)" font-size="51" fill="#4d4d4d">5</text>
<line x1="1427.8" y1="502.1" x2="1432.9" y2="502.1" stroke="#333333" stroke-width="4.6"/>
<text transform="translate(1395.95 513.4) scale(0.9300 1)" font-size="51" fill="#4d4d4d">0</text>
<line x1="1477.3" y1="523" x2="1477.3" y2="528.2" stroke="#333333" stroke-width="4.6"/>
<text transform="translate(1463.29 571.9) scale(0.8870 1)" font-size="51" fill="#4d4d4d">0</text>
<line x1="1752" y1="523" x2="1752" y2="528.2" stroke="#333333" stroke-width="4.6"/>
<text transform="translate(1714.98 571.9) scale(0.9565 1)" font-size="51" fill="#4d4d4d">100</text>
<line x1="2026.7" y1="523" x2="2026.7" y2="528.2" stroke="#333333" stroke-width="4.6"/>
<text transform="translate(1993.61 571.9) scale(0.9382 1)" font-size="51" fill="#4d4d4d">200</text>
<line x1="2301.1" y1="523" x2="2301.1" y2="528.2" stroke="#333333" stroke-width="4.6"/>
<text transform="translate(2268.52 571.9) scale(0.9308 1)" font-size="51" fill="#4d4d4d">300</text>
<text transform="translate(1571.92 629.7) scale(0.9829 1)" font-size="54" fill="#000">Patient(increasing risk score)</text>
<text transform="translate(1369.2 333.78) rotate(-90) scale(0.9734 1)" font-size="53.5" fill="#000">time</text>
<text transform="translate(2316.37 97.4) scale(1.0254 1)" font-size="46.5" fill="#000">event</text>
<rect x="2311.5" y="110.3" width="31.3" height="63.3" fill="#f2f2f2"/>
<circle cx="2327.4" cy="126.2" r="8.7" fill="#00ff00"/><circle cx="2327.4" cy="157.8" r="8.7" fill="#ff0000"/>
<text transform="translate(2352.96 136.7) scale(1.0305 1)" font-size="46.5" fill="#000">alive</text>
<text transform="translate(2352.97 180) scale(1.0258 1)" font-size="46.5" fill="#000">dead</text>
</g>
<g id="panelC">
<text transform="translate(6 750.8) scale(0.9637 1)" font-size="44.2" fill="#000" font-weight="bold">C</text>
<polyline points="221.4,862.5 233.2,878.9 240.4,893.3 247.6,906.3 250.5,920.7 257.7,922.1 260.6,935.1 267.8,945.2 272.1,959.6 279.3,971.1 282.2,984 286.5,998.5 295.2,1010 300.9,1021.5 305.2,1034.5 306,1049.4 312.4,1054.4 318.2,1055.8 321.1,1063 324,1076 326.1,1090.4 328.3,1102 331.9,1114.2 345.6,1114.2 346.3,1123.5 349.9,1124.3 350.6,1132.2 357.8,1132.9 358.5,1142.3 362.9,1143 364.3,1152.4 378,1152.4 378.7,1163.9 395.3,1163.9 396,1176.8 445.7,1176.8 446.4,1202.5 647.8,1202.5 647.8,1240 831,1240" fill="none" stroke="#f8766d" stroke-width="4.4" stroke-linejoin="round"/>
<polyline points="221.4,861.6 233.2,871 247.6,874.6 259.1,889.7 266.3,895.5 273.5,896.2 279.3,902.7 288,902.7 292.3,907.7 298,907 303.8,912.7 324,912.7 324.7,926.4 329.7,927.9 331.9,934.4 349.9,934.4 352.8,966.8 360.7,966.8 361.4,983.3 369.3,984 370.8,992.7 374.4,993.4 376.5,1010 493.2,1010 493.2,1040.2 510.5,1040.2 510.5,1079.2 846.8,1079.2" fill="none" stroke="#00bfc4" stroke-width="4.4" stroke-linejoin="round"/>
<g stroke="#f8766d" stroke-width="1.3"><line x1="450.7" y1="1198.2" x2="450.7" y2="1206.8"/><line x1="464.4" y1="1198.2" x2="464.4" y2="1206.8"/><line x1="483.9" y1="1198.2" x2="483.9" y2="1206.8"/><line x1="533.3" y1="1198.2" x2="533.3" y2="1206.8"/><line x1="828" y1="1235.7" x2="828" y2="1244.3"/><line x1="334" y1="1109.9" x2="334" y2="1118.5"/><line x1="338" y1="1109.9" x2="338" y2="1118.5"/><line x1="343" y1="1109.9" x2="343" y2="1118.5"/><line x1="367" y1="1148.1" x2="367" y2="1156.7"/><line x1="384" y1="1159.6" x2="384" y2="1168.2"/></g>
<g stroke="#00bfc4" stroke-width="1.3"><line x1="544" y1="1074.9" x2="544" y2="1083.5"/><line x1="630.5" y1="1074.9" x2="630.5" y2="1083.5"/><line x1="650.2" y1="1074.9" x2="650.2" y2="1083.5"/><line x1="800" y1="1074.9" x2="800" y2="1083.5"/><line x1="844.2" y1="1074.9" x2="844.2" y2="1083.5"/><line x1="380" y1="1005.7" x2="380" y2="1014.3"/><line x1="384" y1="1005.7" x2="384" y2="1014.3"/><line x1="388" y1="1005.7" x2="388" y2="1014.3"/><line x1="404" y1="1005.7" x2="404" y2="1014.3"/><line x1="407" y1="1005.7" x2="407" y2="1014.3"/><line x1="410" y1="1005.7" x2="410" y2="1014.3"/><line x1="413" y1="1005.7" x2="413" y2="1014.3"/><line x1="424" y1="1005.7" x2="424" y2="1014.3"/><line x1="431" y1="1005.7" x2="431" y2="1014.3"/><line x1="444" y1="1005.7" x2="444" y2="1014.3"/><line x1="463" y1="1005.7" x2="463" y2="1014.3"/><line x1="487" y1="1005.7" x2="487" y2="1014.3"/><line x1="504" y1="1035.9" x2="504" y2="1044.5"/><line x1="507" y1="1035.9" x2="507" y2="1044.5"/><line x1="309" y1="908.4" x2="309" y2="917"/><line x1="313" y1="908.4" x2="313" y2="917"/><line x1="317" y1="908.4" x2="317" y2="917"/><line x1="321" y1="908.4" x2="321" y2="917"/><line x1="345" y1="930.1" x2="345" y2="938.7"/><line x1="241" y1="868.2" x2="241" y2="876.8"/></g>
<polygon points="221.4,862.5 240.4,883.2 247.6,886 253.4,900.5 262,912 267.8,917.8 273.5,932.2 279.3,939.4 286.5,958.1 295.2,972.5 303.8,984 308.1,998.5 312.4,1010 319.6,1012.9 324,1025.8 328.3,1040 330.4,1055.8 333.3,1063 347,1063.8 347.7,1070.2 351.3,1071 352,1078.2 360,1078.9 360.7,1086.1 365,1086.8 365.7,1095.5 379.4,1095.5 380.1,1104.8 396.7,1105.1 397.4,1114.6 447.1,1114.9 448.6,1136.4 649.5,1136.4 649.5,1104.8 831,1104.8 831,1269.5 649.5,1269.5 649.5,1237.6 448.6,1237.6 447.9,1216 397.4,1215.7 396.7,1203.9 380.1,1203.5 379.4,1192.7 365.7,1192.4 365,1182.3 360.7,1181.9 360,1172.8 352,1172.5 351.3,1163.9 347.7,1163.2 347,1153.8 333.3,1153.8 331.2,1146.6 329,1139.4 328.3,1129.3 326.1,1120.7 324.7,1112 324,1099.8 321.1,1099 320.4,1092.6 313.2,1092.6 312.4,1086.8 308.8,1086.1 308.1,1068.8 304.5,1068.1 303.8,1057.3 299.5,1055.8 296.6,1040 290.8,1033 285.1,1017.2 282.2,1005.7 276.4,995.6 272.1,981.2 267.8,968.2 262,958.1 259.1,945.2 253.4,943.7 250.5,926.4 244.7,917.8 240.4,904.8 233.2,887.5 226,874.6 221.4,862.5" fill="#f8766d" fill-opacity="0.3"/>
<polygon points="221.4,861.6 247.6,863.8 259.1,875.3 279.3,882.5 302.4,886.1 325.4,889 331.2,899.8 351.3,900.5 354.2,922.1 361.4,922.8 362.9,934.4 370.1,935.1 371.5,940.8 375.1,941.6 377.3,954.5 495.4,954.5 496.1,956.7 511.2,957 512,961.9 846.8,961.9 846.8,1153.8 512,1153.8 512,1101.7 495.4,1101.2 495.4,1056.6 377.3,1056.6 375.1,1036.6 371.5,1035.9 370.8,1026.5 362.9,1025.8 362.1,1007.1 354.2,1006.4 351.3,965 331.9,964.6 331.2,956 326.1,955.2 325.4,935.8 303.1,935.8 302.4,928.6 291.6,927.9 290.8,922.8 279.3,922.1 273.5,914.9 262,909.1 254.8,897.6 247.6,887.5 233.2,876 221.4,861.6" fill="#00bfc4" fill-opacity="0.3"/>
<line x1="189.5" y1="840.5" x2="189.5" y2="1301.5" stroke="#000" stroke-width="6.2"/>
<line x1="186.4" y1="1298.3" x2="880.5" y2="1298.3" stroke="#000" stroke-width="6.4"/>
<line x1="184.6" y1="861.3" x2="187" y2="861.3" stroke="#222" stroke-width="2.2"/>
<line x1="184.6" y1="965.6" x2="187" y2="965.6" stroke="#222" stroke-width="2.2"/>
<line x1="184.6" y1="1069.7" x2="187" y2="1069.7" stroke="#222" stroke-width="2.2"/>
<line x1="184.6" y1="1173.8" x2="187" y2="1173.8" stroke="#222" stroke-width="2.2"/>
<line x1="184.6" y1="1277.9" x2="187" y2="1277.9" stroke="#222" stroke-width="2.2"/>
<line x1="220.9" y1="1300" x2="220.9" y2="1302.8" stroke="#000" stroke-width="4.5"/>
<line x1="283.7" y1="1300" x2="283.7" y2="1302.8" stroke="#000" stroke-width="4.5"/>
<line x1="346.5" y1="1300" x2="346.5" y2="1302.8" stroke="#000" stroke-width="4.5"/>
<line x1="409.3" y1="1300" x2="409.3" y2="1302.8" stroke="#000" stroke-width="4.5"/>
<line x1="472.1" y1="1300" x2="472.1" y2="1302.8" stroke="#000" stroke-width="4.5"/>
<line x1="534.9" y1="1300" x2="534.9" y2="1302.8" stroke="#000" stroke-width="4.5"/>
<line x1="597.7" y1="1300" x2="597.7" y2="1302.8" stroke="#000" stroke-width="4.5"/>
<line x1="660.5" y1="1300" x2="660.5" y2="1302.8" stroke="#000" stroke-width="4.5"/>
<line x1="723.3" y1="1300" x2="723.3" y2="1302.8" stroke="#000" stroke-width="4.5"/>
<line x1="786.1" y1="1300" x2="786.1" y2="1302.8" stroke="#000" stroke-width="4.5"/>
<line x1="848.9" y1="1300" x2="848.9" y2="1302.8" stroke="#000" stroke-width="4.5"/>
<text transform="translate(90.63 867.2) scale(0.8710 1)" font-size="50.6" fill="#000">1.00</text>
<text transform="translate(90.74 971.5) scale(0.8710 1)" font-size="50.6" fill="#000">0.75</text>
<text transform="translate(90.63 1075.7) scale(0.8710 1)" font-size="50.6" fill="#000">0.50</text>
<text transform="translate(90.74 1179.6) scale(0.8710 1)" font-size="50.6" fill="#000">0.25</text>
<text transform="translate(90.63 1284) scale(0.8710 1)" font-size="50.6" fill="#000">0.00</text>
<text transform="translate(200.76 1356) scale(0.8609 1)" font-size="50.6" fill="#000">0</text>
<text transform="translate(262.06 1356) scale(0.9252 1)" font-size="50.6" fill="#000">2</text>
<text transform="translate(325.82 1356) scale(0.8649 1)" font-size="50.6" fill="#000">4</text>
<text transform="translate(387.66 1356) scale(0.9230 1)" font-size="50.6" fill="#000">6</text>
<text transform="translate(451.27 1356) scale(0.8956 1)" font-size="50.6" fill="#000">8</text>
<text transform="translate(509.27 1356) scale(0.8758 1)" font-size="50.6" fill="#000">10</text>
<text transform="translate(572.74 1356) scale(0.8811 1)" font-size="50.6" fill="#000">12</text>
<text transform="translate(634.92 1356) scale(0.8668 1)" font-size="50.6" fill="#000">14</text>
<text transform="translate(699.89 1356) scale(0.8907 1)" font-size="50.6" fill="#000">16</text>
<text transform="translate(757.24 1356) scale(0.8804 1)" font-size="50.6" fill="#000">18</text>
<text transform="translate(823.33 1356) scale(0.8968 1)" font-size="50.6" fill="#000">20</text>
<text transform="translate(343.7 1407.6) scale(0.9750 1)" font-size="54.6" fill="#000">Time(years)</text>
<text transform="translate(69.2 1282.06) rotate(-90) scale(1.0530 1)" font-size="54" fill="#000">Survival probability</text>
<text transform="translate(215.09 1265) scale(0.9338 1)" font-size="48" fill="#000">p &lt; 0.0001</text>
<rect x="386.6" y="870.7" width="21.6" height="24.8" fill="#f8766d" fill-opacity="0.3"/>
<rect x="388" y="878.2" width="19" height="10.8" fill="#f8766d"/>
<text transform="translate(414.91 899.1) scale(0.8533 1)" font-size="48.2" fill="#000">High risk</text>
<rect x="581.5" y="870.7" width="21.6" height="25" fill="#00bfc4" fill-opacity="0.3"/>
<rect x="582.8" y="877.7" width="19.2" height="11.6" fill="#00bfc4"/>
<text transform="translate(610.13 899.3) scale(0.8484 1)" font-size="48.2" fill="#000">Low risk</text>
</g>
<g id="panelD">
<text transform="translate(902.16 751.1) scale(0.9930 1)" font-size="43.9" fill="#000" font-weight="bold">D</text>
<line x1="1053.8" y1="1285.8" x2="1599.6" y2="863.1" stroke="#bdbdbd" stroke-width="2.4" stroke-dasharray="5.9 9.5 18.8 10.04"/>
<polyline points="1053.8,1285.8 1053.8,1248.1 1055.7,1247.4 1055.7,1240.4 1066.6,1240.4 1066.6,1221.9 1065.3,1219.5 1065.3,1194.8 1068.3,1193.2 1071.4,1190.2 1076.1,1188.6 1076.1,1184.7 1079.9,1183.2 1079.9,1176.2 1087.2,1176.2 1087.2,1160.5 1101.4,1160.5 1101.8,1111.4 1116.9,1110.8 1117.6,1105.8 1120.5,1101.4 1126.2,1095.9 1139.2,1095.2 1139.9,1087.3 1151.5,1086.5 1152.2,1075.7 1156.5,1075 1157.2,1064.2 1168.7,1063.5 1169.5,1055.6 1176.7,1054.9 1178.1,1040.5 1183.9,1036.5 1231.7,1036.8 1231.7,1028 1235.9,1020.2 1247.5,1020.2 1248.3,1011.8 1261.7,1011.8 1262.6,1007.2 1268.5,1006.8 1271.8,998.5 1274.6,988.4 1284.7,988.4 1286.6,975.9 1294.8,975.5 1295.4,971.4 1319.3,971.4 1319.7,963 1324.5,962.6 1324.9,959.5 1340.9,959.5 1343.6,951 1363.2,951 1363.5,939 1376.4,939 1376.8,935.9 1387.8,935.9 1390.6,927.1 1396.3,926.7 1396.7,915.6 1402.6,915.1 1403.5,910.7 1407.7,910.1 1409,907 1413.6,906.4 1414.5,903.3 1423.8,903.3 1424.3,898.7 1459.3,898.7 1459.7,890.4 1478.1,890.4 1478.5,886.7 1491,886.7 1492.8,879.7 1502.9,879.4 1503.5,871.4 1549.9,871.4 1550.8,866.5 1570.2,866.5 1571.1,863.1 1599.6,863.1" fill="none" stroke="#fbb03b" stroke-width="5" stroke-linejoin="miter"/>
<line x1="1023.7" y1="862.8" x2="1031" y2="862.8" stroke="#0000ff" stroke-width="4" stroke-linecap="round"/>
<text transform="translate(951.7 877.2) scale(0.9500 1)" font-size="49.5" fill="#000">1.0</text>
<line x1="1023.7" y1="947.1" x2="1031" y2="947.1" stroke="#0000ff" stroke-width="4" stroke-linecap="round"/>
<text transform="translate(951.93 961.6) scale(0.9500 1)" font-size="49.5" fill="#000">0.8</text>
<line x1="1023.7" y1="1031.4" x2="1031" y2="1031.4" stroke="#0000ff" stroke-width="4" stroke-linecap="round"/>
<text transform="translate(951.93 1046.6) scale(0.9500 1)" font-size="49.5" fill="#000">0.6</text>
<line x1="1023.7" y1="1117" x2="1031" y2="1117" stroke="#0000ff" stroke-width="4" stroke-linecap="round"/>
<text transform="translate(951.23 1130.6) scale(0.9500 1)" font-size="49.5" fill="#000">0.4</text>
<line x1="1023.7" y1="1201.5" x2="1031" y2="1201.5" stroke="#0000ff" stroke-width="4" stroke-linecap="round"/>
<text transform="translate(952.29 1214.7) scale(0.9500 1)" font-size="49.5" fill="#000">0.2</text>
<line x1="1023.7" y1="1285.7" x2="1031" y2="1285.7" stroke="#0000ff" stroke-width="4" stroke-linecap="round"/>
<text transform="translate(951.7 1299.2) scale(0.9500 1)" font-size="49.5" fill="#000">0.0</text>
<line x1="1053.3" y1="1302.5" x2="1053.3" y2="1310.6" stroke="#0000ff" stroke-width="4" stroke-linecap="round"/>
<text transform="translate(1027.52 1358.8) scale(0.9673 1)" font-size="48.6" fill="#000">0.0</text>
<line x1="1162.6" y1="1302.5" x2="1162.6" y2="1310.6" stroke="#0000ff" stroke-width="4" stroke-linecap="round"/>
<text transform="translate(1136.73 1358.8) scale(0.9639 1)" font-size="48.6" fill="#000">0.2</text>
<line x1="1272" y1="1302.5" x2="1272" y2="1310.6" stroke="#0000ff" stroke-width="4" stroke-linecap="round"/>
<text transform="translate(1245.75 1358.8) scale(0.9537 1)" font-size="48.6" fill="#000">0.4</text>
<line x1="1381.3" y1="1302.5" x2="1381.3" y2="1310.6" stroke="#0000ff" stroke-width="4" stroke-linecap="round"/>
<text transform="translate(1354.8 1358.8) scale(0.9757 1)" font-size="48.6" fill="#000">0.6</text>
<line x1="1490.6" y1="1302.5" x2="1490.6" y2="1310.6" stroke="#0000ff" stroke-width="4" stroke-linecap="round"/>
<text transform="translate(1464.22 1358.8) scale(0.9694 1)" font-size="48.6" fill="#000">0.8</text>
<line x1="1599.8" y1="1302.5" x2="1599.8" y2="1310.6" stroke="#0000ff" stroke-width="4" stroke-linecap="round"/>
<text transform="translate(1572.64 1358.8) scale(0.9746 1)" font-size="48.6" fill="#000">1.0</text>
<rect x="1032.3" y="846.0" width="590.2" height="455.9" fill="none" stroke="#000" stroke-width="4.3"/>
<text transform="translate(1104.04 1407.5) scale(1.0164 1)" font-size="52" fill="#000">False positive rate</text>
<text transform="translate(939.3 1269.2) rotate(-90) scale(0.9864 1)" font-size="54" fill="#000">True positive rate</text>
<text transform="translate(1263.38 1201.3) scale(0.9488 1)" font-size="50.2" fill="#000">AUC = 0.721</text>
</g>
<g id="panelE">
<text transform="translate(1657.34 751.1) scale(0.9640 1)" font-size="43.9" fill="#000" font-weight="bold">E</text>
<polyline points="1828.8,827.8 1843.2,834.6 1849,843.2 1857.6,846.8 1866.3,851.9 1893.6,852.1 1896.5,860.5 1903.7,866.3 1910.9,868.4 1918.1,876.3 1926.8,877.8 1929.6,883.6 1935.4,888.6 1952.7,888.6 1957,891.5 1962.8,892.9 1970,894.4 1975.7,900.8 1982.9,908.8 2001.7,908.8 2007.4,913.8 2011.8,917.4 2017.5,919.6 2020.4,925.3 2027.6,926.8 2033.4,932.5 2042,938.3 2053.5,944 2063.6,948.4 2070.8,953.4 2093.9,953.8 2096.7,958.5 2103.9,959.9 2106.8,964.9 2127,965.7 2128.4,974.3 2184.3,974.3 2184.3,990.3 2220.7,990.3 2220.7,1012.6 2277.9,1012.6 2277.9,1043.5 2298.1,1043.5 2298.1,1079.3 2361,1079.3" fill="none" stroke="#f8766d" stroke-width="5.6" stroke-linejoin="round"/>
<polyline points="1828.8,825.2 1843.2,827.6 1857.6,830.3 1912.4,830.3 1916.7,832.4 1923.9,841.1 1938.3,841.8 1942.6,844.7 1968.5,844.7 1972.9,851.1 1981.5,854.7 1987.3,859.8 1998.8,860.2 2001.7,862.7 2024.7,863.1 2030.5,868.9 2079.5,868.9 2082.3,873.5 2093.9,874.2 2098.2,880.7 2100.3,889.3 2106.8,893.6 2111.2,898 2118.4,899.4 2121.2,905.2 2125.6,909.5 2128.4,915.2 2132.8,922.4 2137.1,926 2152.2,926 2153,936.1 2156.6,936.8 2157.3,946.9 2201.9,946.9 2202.7,961.3 2428.1,961.3" fill="none" stroke="#00bfc4" stroke-width="5.6" stroke-linejoin="round"/>
<g stroke="#f8766d" stroke-width="1.5"><line x1="2359.7" y1="1071.6" x2="2359.7" y2="1083.6"/><line x1="2305" y1="1071.6" x2="2305" y2="1083.6"/><line x1="2316.5" y1="1071.6" x2="2316.5" y2="1083.6"/><line x1="2320" y1="1071.6" x2="2320" y2="1083.6"/><line x1="2294.7" y1="1035.8" x2="2294.7" y2="1047.8"/><line x1="2233" y1="1004.9" x2="2233" y2="1016.9"/><line x1="2250.6" y1="1004.9" x2="2250.6" y2="1016.9"/><line x1="2264.5" y1="1004.9" x2="2264.5" y2="1016.9"/><line x1="2192" y1="982.6" x2="2192" y2="994.6"/><line x1="2201.7" y1="982.6" x2="2201.7" y2="994.6"/><line x1="2212" y1="982.6" x2="2212" y2="994.6"/><line x1="2142" y1="966.6" x2="2142" y2="978.6"/><line x1="2152" y1="966.6" x2="2152" y2="978.6"/><line x1="2155" y1="966.6" x2="2155" y2="978.6"/><line x1="2172" y1="966.6" x2="2172" y2="978.6"/><line x1="1853" y1="839.1" x2="1853" y2="851.1"/><line x1="1871" y1="844.3" x2="1871" y2="856.3"/><line x1="1909" y1="860.7" x2="1909" y2="872.7"/><line x1="1931" y1="880.9" x2="1931" y2="892.9"/><line x1="1937" y1="880.9" x2="1937" y2="892.9"/><line x1="1947" y1="880.9" x2="1947" y2="892.9"/><line x1="1971" y1="886.7" x2="1971" y2="898.7"/><line x1="1983" y1="901.1" x2="1983" y2="913.1"/><line x1="1991" y1="901.1" x2="1991" y2="913.1"/><line x1="1996" y1="901.1" x2="1996" y2="913.1"/><line x1="1999" y1="901.1" x2="1999" y2="913.1"/><line x1="2016" y1="911.9" x2="2016" y2="923.9"/><line x1="2024" y1="919.1" x2="2024" y2="931.1"/><line x1="2035" y1="925.3" x2="2035" y2="937.3"/><line x1="2041" y1="930.3" x2="2041" y2="942.3"/><line x1="2048" y1="933.3" x2="2048" y2="945.3"/><line x1="2056" y1="937.3" x2="2056" y2="949.3"/><line x1="2061" y1="940.3" x2="2061" y2="952.3"/><line x1="2069" y1="945.3" x2="2069" y2="957.3"/><line x1="2074" y1="946.1" x2="2074" y2="958.1"/><line x1="2077" y1="946.1" x2="2077" y2="958.1"/><line x1="2080" y1="946.1" x2="2080" y2="958.1"/><line x1="2083" y1="946.1" x2="2083" y2="958.1"/><line x1="2086" y1="946.1" x2="2086" y2="958.1"/><line x1="2089" y1="946.1" x2="2089" y2="958.1"/><line x1="2092" y1="946.1" x2="2092" y2="958.1"/><line x1="2099" y1="952.2" x2="2099" y2="964.2"/><line x1="2102" y1="952.2" x2="2102" y2="964.2"/><line x1="2110" y1="958" x2="2110" y2="970"/><line x1="2113" y1="958" x2="2113" y2="970"/><line x1="2116" y1="958" x2="2116" y2="970"/><line x1="2119" y1="958" x2="2119" y2="970"/><line x1="2122" y1="958" x2="2122" y2="970"/><line x1="2125" y1="958" x2="2125" y2="970"/></g>
<g stroke="#00bfc4" stroke-width="1.5"><line x1="2426.7" y1="953.6" x2="2426.7" y2="965.6"/><line x1="2211" y1="953.6" x2="2211" y2="965.6"/><line x1="2222" y1="953.6" x2="2222" y2="965.6"/><line x1="2229" y1="953.6" x2="2229" y2="965.6"/><line x1="2257" y1="953.6" x2="2257" y2="965.6"/><line x1="2263" y1="953.6" x2="2263" y2="965.6"/><line x1="2276" y1="953.6" x2="2276" y2="965.6"/><line x1="2281" y1="953.6" x2="2281" y2="965.6"/><line x1="2289" y1="953.6" x2="2289" y2="965.6"/><line x1="2297" y1="953.6" x2="2297" y2="965.6"/><line x1="2305" y1="953.6" x2="2305" y2="965.6"/><line x1="2315" y1="953.6" x2="2315" y2="965.6"/><line x1="2341" y1="953.6" x2="2341" y2="965.6"/><line x1="2357" y1="953.6" x2="2357" y2="965.6"/><line x1="2390" y1="953.6" x2="2390" y2="965.6"/><line x1="2162" y1="939.2" x2="2162" y2="951.2"/><line x1="2165" y1="939.2" x2="2165" y2="951.2"/><line x1="2168" y1="939.2" x2="2168" y2="951.2"/><line x1="2186" y1="939.2" x2="2186" y2="951.2"/><line x1="2141" y1="918.3" x2="2141" y2="930.3"/><line x1="2144" y1="918.3" x2="2144" y2="930.3"/><line x1="2149" y1="918.3" x2="2149" y2="930.3"/><line x1="1832" y1="818.3" x2="1832" y2="830.3"/><line x1="1835" y1="818.8" x2="1835" y2="830.8"/><line x1="1838" y1="819.3" x2="1838" y2="831.3"/><line x1="1841" y1="819.8" x2="1841" y2="831.8"/><line x1="1853" y1="821.8" x2="1853" y2="833.8"/><line x1="1866" y1="822.6" x2="1866" y2="834.6"/><line x1="1916" y1="824.7" x2="1916" y2="836.7"/><line x1="1933" y1="834.1" x2="1933" y2="846.1"/><line x1="1942" y1="837" x2="1942" y2="849"/><line x1="1965" y1="837" x2="1965" y2="849"/><line x1="1989" y1="852.5" x2="1989" y2="864.5"/><line x1="1993" y1="852.5" x2="1993" y2="864.5"/><line x1="2009" y1="855.3" x2="2009" y2="867.3"/><line x1="2027" y1="855.3" x2="2027" y2="867.3"/><line x1="2030" y1="861.2" x2="2030" y2="873.2"/><line x1="2041" y1="861.2" x2="2041" y2="873.2"/><line x1="2044.1" y1="861.2" x2="2044.1" y2="873.2"/><line x1="2047.2" y1="861.2" x2="2047.2" y2="873.2"/><line x1="2050.3" y1="861.2" x2="2050.3" y2="873.2"/><line x1="2053.4" y1="861.2" x2="2053.4" y2="873.2"/><line x1="2056.5" y1="861.2" x2="2056.5" y2="873.2"/><line x1="2059.6" y1="861.2" x2="2059.6" y2="873.2"/><line x1="2062.7" y1="861.2" x2="2062.7" y2="873.2"/><line x1="2065.8" y1="861.2" x2="2065.8" y2="873.2"/><line x1="2068.9" y1="861.2" x2="2068.9" y2="873.2"/><line x1="2072" y1="861.2" x2="2072" y2="873.2"/><line x1="2075.1" y1="861.2" x2="2075.1" y2="873.2"/><line x1="2078.2" y1="861.2" x2="2078.2" y2="873.2"/><line x1="2086" y1="866.5" x2="2086" y2="878.5"/><line x1="2090" y1="866.5" x2="2090" y2="878.5"/><line x1="2104" y1="885.3" x2="2104" y2="897.3"/><line x1="2110" y1="890.3" x2="2110" y2="902.3"/></g>
<polygon points="1828.8,826.5 1843.2,831 1857.6,834.1 1896.5,834.6 1900.8,841.8 1909.5,846.1 1921,851.9 1929.6,857.6 1936.8,863.4 1957,864.1 1961.3,867 1972.9,869.1 1980.1,874.9 1985.8,880.7 2003.1,881.4 2010.3,885.7 2020.4,890 2026.2,895.1 2034.8,899.4 2044.9,903.7 2056.4,908 2066.5,913.8 2073.7,918.8 2099.6,919.6 2101.1,923.9 2108.3,924.6 2109.7,928.2 2129.9,928.9 2131.3,934 2187.5,934 2187.5,939 2225,939 2225,944 2281.9,944 2281.9,950.5 2302.8,950.5 2302.8,960.6 2364,960.6 2364,1150.1 2302.1,1150.1 2302.1,1107.9 2281.9,1107.9 2281.9,1066.6 2224.3,1066.6 2224.3,1034.2 2187.5,1034.2 2187.5,1009.7 2130.6,1009.7 2129.9,999.5 2109.7,998.8 2108.3,992.3 2101.1,991.6 2099.6,985.5 2075.1,985.1 2067.9,980.1 2059.3,975.7 2050.6,968.5 2039.1,962.8 2031.9,957 2023.3,951.3 2020.4,945.5 2011.8,941.2 2004.6,935.1 1985.8,934.7 1978.6,925.3 1974.3,918.4 1959.9,915.2 1957,912.1 1938.3,911.6 1932.5,906.6 1929.6,900.8 1922.4,898.7 1913.8,890 1905.2,885 1898,877.8 1895.1,868 1867.7,867.7 1857.6,860.5 1850.4,856.9 1849,849 1843.2,838.9 1828.8,829" fill="#f8766d" fill-opacity="0.3"/>
<polygon points="1828.8,823 1857.6,825.2 1918.1,825.2 1923.9,827.4 1944,830.3 1972.9,830.5 1977.2,834.6 1987.3,838.9 2004.6,842.5 2027.6,842.8 2034.8,846.8 2085.2,847.2 2086.7,850.4 2096.7,850.7 2102.5,854 2103.9,860.5 2112.6,861.2 2114,865.5 2121.2,866.3 2122.7,869.1 2129.2,869.9 2131.3,874.2 2136.4,878.5 2137.8,884 2156.6,884 2156.6,890 2160.9,890 2160.9,897.2 2206,897.2 2206,903.7 2431.3,903.7 2431.3,1009.7 2205.5,1009.7 2205.5,990.3 2160.9,990.3 2160.9,976.6 2156.6,976.6 2156.6,962.8 2137.1,962.8 2136.4,952.7 2132,948.4 2129.9,942.6 2129.2,935.4 2122.7,934.7 2121.2,926 2112.6,925.3 2111.9,916 2103.9,915.2 2103.2,903.7 2098.2,903 2096.7,896.2 2085.9,895.8 2085.2,889.6 2034.8,889.3 2029,882.8 2005.3,882.1 2004.6,878.5 1988.7,877.8 1980.1,870.6 1975,863.4 1974.3,859.1 1945.5,858.3 1944,850.4 1923.9,849.7 1918.1,838.9 1857.6,838.2 1843.2,834 1828.8,828" fill="#00bfc4" fill-opacity="0.3"/>
<line x1="1804.4" y1="819.6" x2="1804.4" y2="1289.4" stroke="#000" stroke-width="6.2"/>
<line x1="1801.3" y1="1286.2" x2="2495" y2="1286.2" stroke="#000" stroke-width="6.4"/>
<line x1="1799.4" y1="830.6" x2="1801.6" y2="830.6" stroke="#222" stroke-width="2.2"/>
<line x1="1799.4" y1="939" x2="1801.6" y2="939" stroke="#222" stroke-width="2.2"/>
<line x1="1799.4" y1="1047.3" x2="1801.6" y2="1047.3" stroke="#222" stroke-width="2.2"/>
<line x1="1799.4" y1="1155.6" x2="1801.6" y2="1155.6" stroke="#222" stroke-width="2.2"/>
<line x1="1799.4" y1="1263.9" x2="1801.6" y2="1263.9" stroke="#222" stroke-width="2.2"/>
<line x1="1835.2" y1="1288" x2="1835.2" y2="1290.7" stroke="#000" stroke-width="4.5"/>
<line x1="1940" y1="1288" x2="1940" y2="1290.7" stroke="#000" stroke-width="4.5"/>
<line x1="2044.8" y1="1288" x2="2044.8" y2="1290.7" stroke="#000" stroke-width="4.5"/>
<line x1="2149.6" y1="1288" x2="2149.6" y2="1290.7" stroke="#000" stroke-width="4.5"/>
<line x1="2254.4" y1="1288" x2="2254.4" y2="1290.7" stroke="#000" stroke-width="4.5"/>
<line x1="2359.2" y1="1288" x2="2359.2" y2="1290.7" stroke="#000" stroke-width="4.5"/>
<line x1="2464" y1="1288" x2="2464" y2="1290.7" stroke="#000" stroke-width="4.5"/>
<text transform="translate(1712.09 844) scale(0.8050 1)" font-size="51" fill="#000">1.00</text>
<text transform="translate(1712.19 952.3) scale(0.8050 1)" font-size="51" fill="#000">0.75</text>
<text transform="translate(1712.09 1060.5) scale(0.8050 1)" font-size="51" fill="#000">0.50</text>
<text transform="translate(1712.19 1168.8) scale(0.8050 1)" font-size="51" fill="#000">0.25</text>
<text transform="translate(1712.09 1277) scale(0.8050 1)" font-size="51" fill="#000">0.00</text>
<text transform="translate(1822.11 1343) scale(0.7900 1)" font-size="55.8" fill="#000">0</text>
<text transform="translate(1927.07 1343) scale(0.7900 1)" font-size="55.8" fill="#000">1</text>
<text transform="translate(2031.77 1343) scale(0.7900 1)" font-size="55.8" fill="#000">2</text>
<text transform="translate(2136.68 1343) scale(0.7900 1)" font-size="55.8" fill="#000">3</text>
<text transform="translate(2241.48 1343) scale(0.7900 1)" font-size="55.8" fill="#000">4</text>
<text transform="translate(2346.17 1343) scale(0.7900 1)" font-size="55.8" fill="#000">5</text>
<text transform="translate(2450.8 1343) scale(0.7900 1)" font-size="55.8" fill="#000">6</text>
<text transform="translate(2022.67 1407.6) scale(0.8695 1)" font-size="52.8" fill="#000">Time(years)</text>
<text transform="translate(1697.3 1297.06) rotate(-90) scale(1.1457 1)" font-size="53.5" fill="#000">Survival probability</text>
<text transform="translate(1842.68 1179.5) scale(0.8421 1)" font-size="49.7" fill="#000">p = 0.0011</text>
<rect x="2111.9" y="824.5" width="20.9" height="25.2" fill="#f8766d" fill-opacity="0.3"/>
<rect x="2112.9" y="831.4" width="18.7" height="11.1" fill="#f8766d"/>
<text transform="translate(2140.22 852.6) scale(0.8500 1)" font-size="48.2" fill="#000">High risk</text>
<rect x="2306.1" y="824.5" width="21.6" height="25.2" fill="#00bfc4" fill-opacity="0.3"/>
<rect x="2307.1" y="831.4" width="19.4" height="11.1" fill="#00bfc4"/>
<text transform="translate(2334.22 852.6) scale(0.8507 1)" font-size="48.2" fill="#000">Low risk</text>
</g>
</svg>
</body>
</html>
